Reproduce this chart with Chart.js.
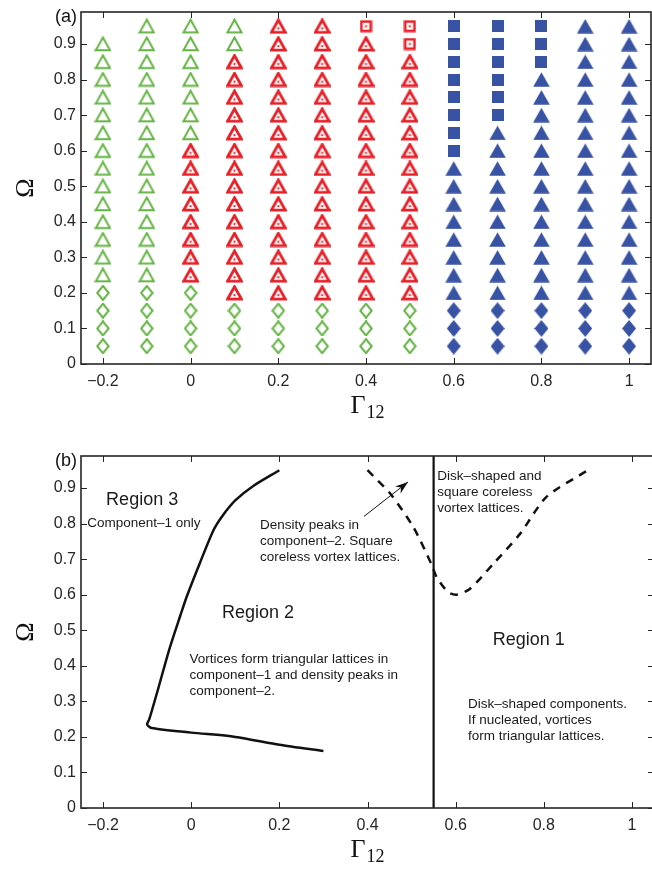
<!DOCTYPE html>
<html>
<head>
<meta charset="utf-8">
<script src="https://cdn.jsdelivr.net/npm/chart.js@4.4.1/dist/chart.umd.min.js"></script>
<style>
  html, body { margin: 0; padding: 0; background: #fff; overflow: hidden; width: 652px; height: 869px; }
  .panel { position: absolute; left: 0; }
  #panelA { top: 0; }
  #panelB { top: 430px; }
</style>
</head>
<body>
<div class="panel" id="panelA"><canvas id="chartA" width="660" height="430"></canvas></div>
<div class="panel" id="panelB"><canvas id="chartB" width="660" height="439"></canvas></div>
<script>
// ---- Panel (a): phase map ----
const gammaValues = [-0.2, -0.1, 0, 0.1, 0.2, 0.3, 0.4, 0.5, 0.6, 0.7, 0.8, 0.9, 1];
const omegaValues = [0.05, 0.1, 0.15, 0.2, 0.25, 0.3, 0.35, 0.4, 0.45, 0.5,
                     0.55, 0.6, 0.65, 0.7, 0.75, 0.8, 0.85, 0.9, 0.95];
// one string per gamma column, one char per omega (lowest first)
// D green diamond, T green triangle, R red triangle, S red square,
// K blue diamond, B blue triangle, Q blue square, . nothing
const phaseColumns = [
    'DDDDTTTTTTTTTTTTTT.',
    'DDDDTTTTTTTTTTTTTTT',
    'DDDDRRRRRRRRTTTTTTT',
    'DDDRRRRRRRRRRRRRRTT',
    'DDDRRRRRRRRRRRRRRRR',
    'DDDRRRRRRRRRRRRRRRR',
    'DDDRRRRRRRRRRRRRRRS',
    'DDDRRRRRRRRRRRRRRSS',
    'KKKBBBBBBBBQQQQQQQQ',
    'KKKBBBBBBBBBBQQQQQQ',
    'KKKBBBBBBBBBBBBBQQQ',
    'KKKBBBBBBBBBBBBBBBB',
    'KKKBBBBBBBBBBBBBBBB'
];

const xTicks = [-0.2, 0, 0.2, 0.4, 0.6, 0.8, 1];
const yTicks = [0, 0.1, 0.2, 0.3, 0.4, 0.5, 0.6, 0.7, 0.8, 0.9];

// ---- Panel (b): boundaries ----
const solidGamma = [0.2, 0.14, 0.1, 0.07, 0.05, 0.02, -0.01, -0.025, -0.05, -0.075, -0.095, -0.1, -0.09, 0, 0.1, 0.2, 0.3];
const solidOmega = [0.95, 0.905, 0.865, 0.82, 0.78, 0.69, 0.595, 0.54, 0.445, 0.335, 0.25, 0.235, 0.225, 0.212, 0.2, 0.178, 0.16];
const dashedGamma = [0.4, 0.451, 0.504, 0.545, 0.557, 0.583, 0.602, 0.632, 0.685, 0.746, 0.806, 0.9];
const dashedOmega = [0.95, 0.885, 0.79, 0.686, 0.649, 0.607, 0.6, 0.616, 0.686, 0.771, 0.875, 0.95];
const dividerGamma = [0.55, 0.55];
const dividerOmega = [0, 0.99];
const arrowGamma = [0.392, 0.492];
const arrowOmega = [0.82, 0.917];

const GREEN = 'rgb(100,180,68)';
const RED = 'rgb(232,32,40)';
const BLUE = 'rgb(57,83,164)';
const INK = '#262626';
const SANS = '"Liberation Sans", Arial, sans-serif';
const SERIF = '"Liberation Serif", "Times New Roman", serif';

// marker images
function makeMarker(w, h, draw) {
    const c = document.createElement('canvas');
    c.width = w;
    c.height = h;
    draw(c.getContext('2d'));
    return c;
}
function poly(g, pts) {
    g.beginPath();
    pts.forEach((p, i) => i ? g.lineTo(p[0], p[1]) : g.moveTo(p[0], p[1]));
    g.closePath();
}

const markers = {
    D: makeMarker(14, 16, g => {
        poly(g, [[7, 1], [12.8, 8], [7, 15], [1.2, 8]]);
        g.strokeStyle = GREEN; g.lineWidth = 2; g.stroke();
    }),
    T: makeMarker(17, 16, g => {
        poly(g, [[8.5, 1.5], [15.6, 14.2], [1.4, 14.2]]);
        g.strokeStyle = GREEN; g.lineWidth = 2; g.lineJoin = 'miter'; g.stroke();
    }),
    R: makeMarker(17, 16, g => {
        poly(g, [[8.5, 1.8], [15.5, 14.2], [1.5, 14.2]]);
        g.strokeStyle = RED; g.lineWidth = 2.8; g.stroke();
        g.fillStyle = RED; g.fillRect(7.5, 9.2, 2, 2);
    }),
    S: makeMarker(13, 13, g => {
        g.strokeStyle = RED; g.lineWidth = 2.6;
        g.strokeRect(1.8, 1.8, 9.4, 9.4);
        g.fillStyle = RED; g.fillRect(5.5, 5.5, 2, 2);
    }),
    K: makeMarker(14, 17, g => {
        poly(g, [[7, 0], [14, 8.5], [7, 17], [0, 8.5]]);
        g.fillStyle = BLUE; g.fill();
    }),
    B: makeMarker(17, 15, g => {
        poly(g, [[8.5, 0.3], [16.8, 14.7], [0.2, 14.7]]);
        g.fillStyle = BLUE; g.fill();
    }),
    Q: makeMarker(12, 12, g => {
        g.fillStyle = BLUE; g.fillRect(0, 0, 12, 12);
    })
};

// build one scatter dataset per marker kind from the phase table
const phaseDatasets = Object.keys(markers).map(code => {
    const pts = [];
    phaseColumns.forEach((col, i) => {
        col.split('').forEach((c, j) => {
            if (c === code) pts.push({ x: gammaValues[i], y: omegaValues[j] });
        });
    });
    return { label: code, data: pts, pointStyle: markers[code], pointRadius: 8, pointHoverRadius: 8 };
});

function fmtTick(v) {
    const r = Math.round(v * 10) / 10;
    return r < 0 ? '\u2212' + Math.abs(r) : String(r);
}

function xAxis(h) {
    return {
        type: 'linear', min: -0.25, max: 1.05,
        grid: { display: false, drawTicks: false }, border: { display: false },
        afterBuildTicks: s => { s.ticks = xTicks.map(v => ({ value: v })); },
        afterFit: s => { s.height = h; s.paddingLeft = 0; s.paddingRight = 0; },
        ticks: { padding: 8, color: INK, maxRotation: 0, autoSkip: false,
                 font: { family: SANS, size: 16 }, callback: fmtTick }
    };
}
function yAxis() {
    return {
        type: 'linear', min: 0, max: 0.99,
        grid: { display: false, drawTicks: false }, border: { display: false },
        afterBuildTicks: s => { s.ticks = yTicks.map(v => ({ value: v })); },
        afterFit: s => { s.width = 81; s.paddingTop = 0; s.paddingBottom = 0; },
        ticks: { padding: 5, color: INK, autoSkip: false,
                 font: { family: SANS, size: 16 }, callback: fmtTick }
    };
}

// MATLAB style box, inward ticks on all sides, axis labels
const framePlugin = {
    id: 'frame',
    afterDraw(chart, args, opts) {
        const { ctx, chartArea: a, scales: { x, y } } = chart;
        ctx.save();
        ctx.strokeStyle = INK;
        ctx.lineWidth = 1;
        ctx.beginPath();
        xTicks.forEach(v => {
            const px = Math.round(x.getPixelForValue(v)) + 0.5;
            ctx.moveTo(px, a.bottom); ctx.lineTo(px, a.bottom - 6);
            ctx.moveTo(px, a.top); ctx.lineTo(px, a.top + 6);
        });
        yTicks.forEach(v => {
            const py = Math.round(y.getPixelForValue(v)) + 0.5;
            ctx.moveTo(a.left, py); ctx.lineTo(a.left + 6, py);
            ctx.moveTo(a.right, py); ctx.lineTo(a.right - 6, py);
        });
        ctx.stroke();
        ctx.lineWidth = 1.6;
        ctx.strokeRect(a.left, a.top, a.right - a.left, a.bottom - a.top);

        ctx.fillStyle = '#111';
        // panel label
        ctx.font = '18px ' + SANS;
        ctx.textAlign = 'right';
        ctx.textBaseline = 'middle';
        ctx.fillText(opts.label, 77, a.top + 5);

        // x label: Gamma_12
        const cx = 367, base = a.bottom + 49;
        ctx.textAlign = 'left';
        ctx.textBaseline = 'alphabetic';
        ctx.font = '26px ' + SERIF;
        const wG = ctx.measureText('\u0393').width;
        ctx.font = '18px ' + SERIF;
        const wS = ctx.measureText('12').width;
        const x0 = cx - (wG + wS) / 2;
        ctx.font = '26px ' + SERIF;
        ctx.fillText('\u0393', x0, base);
        ctx.font = '18px ' + SERIF;
        ctx.fillText('12', x0 + wG + 1, base + 5);

        // y label: Omega
        ctx.translate(26, (a.top + a.bottom) / 2);
        ctx.rotate(-Math.PI / 2);
        ctx.textAlign = 'center';
        ctx.textBaseline = 'middle';
        ctx.font = '26px ' + SERIF;
        ctx.fillText('\u03A9', 0, 0);
        ctx.restore();
    }
};

new Chart(document.getElementById('chartA'), {
    type: 'scatter',
    data: { datasets: phaseDatasets },
    options: {
        responsive: false, animation: false, devicePixelRatio: 1,
        layout: { padding: { top: 12, right: 6, left: 0, bottom: 0 } },
        plugins: { legend: { display: false }, tooltip: { enabled: false }, frame: { label: '(a)' } },
        scales: { x: xAxis(66), y: yAxis() }
    },
    plugins: [framePlugin]
});

// ---- Panel (b) ----
const notes = [
    { x: -0.193, y: 0.866, size: 18, lines: ['Region 3'] },
    { x: -0.236, y: 0.80, size: 13.5, lines: ['Component\u20131 only'] },
    { x: 0.156, y: 0.796, size: 13.5, lines: ['Density peaks in', 'component\u20132. Square', 'coreless vortex lattices.'] },
    { x: 0.558, y: 0.934, size: 13.5, lines: ['Disk\u2013shaped and', 'square coreless', 'vortex lattices.'] },
    { x: 0.070, y: 0.548, size: 18, lines: ['Region 2'] },
    { x: -0.004, y: 0.417, size: 13.5, lines: ['Vortices form triangular lattices in', 'component\u20131 and density peaks in', 'component\u20132.'] },
    { x: 0.684, y: 0.473, size: 18, lines: ['Region 1'] },
    { x: 0.628, y: 0.293, size: 13.5, lines: ['Disk\u2013shaped components.', 'If nucleated, vortices', 'form triangular lattices.'] }
];

const notesPlugin = {
    id: 'notes',
    afterDatasetsDraw(chart) {
        const { ctx, scales: { x, y } } = chart;
        ctx.save();
        // arrow head
        const n = arrowGamma.length;
        const ex = x.getPixelForValue(arrowGamma[n - 1]), ey = y.getPixelForValue(arrowOmega[n - 1]);
        const sx = x.getPixelForValue(arrowGamma[n - 2]), sy = y.getPixelForValue(arrowOmega[n - 2]);
        const ang = Math.atan2(ey - sy, ex - sx);
        ctx.translate(ex, ey);
        ctx.rotate(ang);
        ctx.beginPath();
        ctx.moveTo(0, 0);
        ctx.lineTo(-13, -4.5);
        ctx.lineTo(-9, 0);
        ctx.lineTo(-13, 4.5);
        ctx.closePath();
        ctx.fillStyle = '#111';
        ctx.fill();
        ctx.restore();

        ctx.save();
        ctx.fillStyle = '#1a1a1a';
        ctx.textAlign = 'left';
        ctx.textBaseline = 'middle';
        notes.forEach(nt => {
            ctx.font = nt.size + 'px ' + SANS;
            const px = x.getPixelForValue(nt.x), py = y.getPixelForValue(nt.y);
            nt.lines.forEach((t, i) => ctx.fillText(t, px, py + i * 16));
        });
        ctx.restore();
    }
};

function pairs(xs, ys) {
    return xs.map((v, i) => ({ x: v, y: ys[i] }));
}

new Chart(document.getElementById('chartB'), {
    type: 'scatter',
    data: {
        datasets: [
            { label: 'Region 2/3 boundary', data: pairs(solidGamma, solidOmega), showLine: true,
              borderColor: '#111', borderWidth: 2.5, tension: 0.25, pointRadius: 0 },
            { label: 'square lattice boundary', data: pairs(dashedGamma, dashedOmega), showLine: true,
              borderColor: '#111', borderWidth: 2.5, borderDash: [8, 7], tension: 0.25, pointRadius: 0 },
            { label: 'Region 1 boundary', data: pairs(dividerGamma, dividerOmega), showLine: true,
              borderColor: '#111', borderWidth: 2.2, pointRadius: 0 },
            { label: 'arrow', data: pairs(arrowGamma, arrowOmega), showLine: true,
              borderColor: '#111', borderWidth: 1, pointRadius: 0 }
        ]
    },
    options: {
        responsive: false, animation: false, devicePixelRatio: 1,
        layout: { padding: { top: 26, right: 6, left: 0, bottom: 0 } },
        plugins: { legend: { display: false }, tooltip: { enabled: false }, frame: { label: '(b)' } },
        scales: { x: xAxis(61), y: yAxis() }
    },
    plugins: [framePlugin, notesPlugin]
});
</script>
</body>
</html>
